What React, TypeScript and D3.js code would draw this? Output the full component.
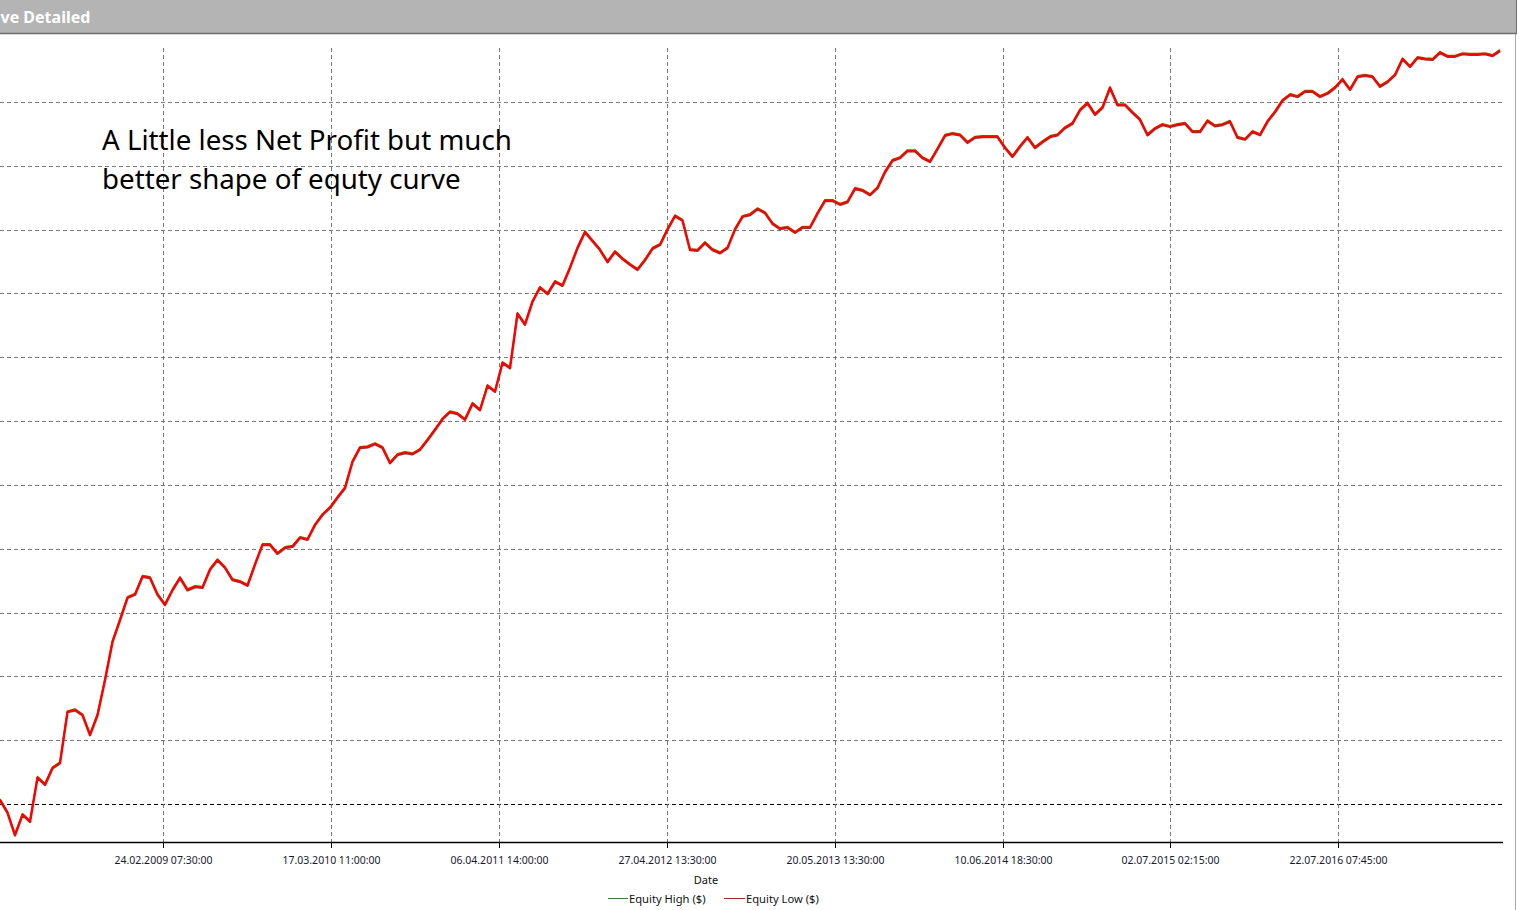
import React from "react";
import * as d3 from "d3";

// Equity (low) sampled at uniform intervals along the test (sample index 0..200)
const equityLow: number[] = [
  10060, 9860, 9510, 9830, 9720, 10410, 10300, 10560, 10640, 11440,
  11470, 11390, 11080, 11390, 11940, 12540, 12880, 13230, 13280, 13560,
  13540, 13280, 13120, 13350, 13540, 13350, 13400, 13390, 13670, 13820,
  13700, 13510, 13480, 13420, 13750, 14060, 14060, 13920, 14010, 14030,
  14170, 14140, 14370, 14530, 14640, 14800, 14950, 15360, 15580, 15590,
  15640, 15580, 15340, 15470, 15500, 15480, 15550, 15700, 15860, 16030,
  16140, 16110, 16020, 16270, 16170, 16550, 16460, 16910, 16830, 17680,
  17510, 17870, 18090, 17990, 18180, 18120, 18400, 18710, 18960, 18820,
  18680, 18490, 18650, 18540, 18450, 18370, 18520, 18700, 18760, 19000,
  19210, 19140, 18680, 18670, 18790, 18680, 18630, 18710, 19000, 19200,
  19230, 19320, 19260, 19090, 19010, 19030, 18950, 19030, 19030, 19250,
  19450, 19450, 19390, 19430, 19640, 19610, 19540, 19650, 19900, 20080,
  20120, 20230, 20230, 20120, 20060, 20260, 20470, 20500, 20480, 20360,
  20440, 20450, 20450, 20450, 20280, 20140, 20300, 20440, 20280, 20370,
  20450, 20480, 20590, 20660, 20870, 20980, 20800, 20910, 21220, 20950,
  20950, 20830, 20720, 20480, 20580, 20640, 20610, 20640, 20660, 20530,
  20530, 20700, 20620, 20640, 20690, 20440, 20410, 20530, 20480, 20690,
  20840, 21020, 21110, 21080, 21160, 21160, 21080, 21130, 21220, 21350,
  21190, 21390, 21410, 21390, 21240, 21310, 21420, 21670, 21550, 21690,
  21670, 21660, 21770, 21710, 21710, 21750, 21740, 21740, 21750, 21720,
  21800,
];

// x tick positions (in sample index units) and their date labels
const tickIndex: number[] = [21.73, 44.13, 66.53, 88.93, 111.33, 133.73, 156.0, 178.4];
const tickLabels: string[] = [
  "24.02.2009 07:30:00",
  "17.03.2010 11:00:00",
  "06.04.2011 14:00:00",
  "27.04.2012 13:30:00",
  "20.05.2013 13:30:00",
  "10.06.2014 18:30:00",
  "02.07.2015 02:15:00",
  "22.07.2016 07:45:00",
];
const yTicks: number[] = d3.range(10000, 21001, 1000);
const initialDeposit = 10000;
const yDomain: [number, number] = [9405, 21846];

const seriesNames = ["Equity High ($)", "Equity Low ($)"];
const seriesColors = ["#1f8a1f", "#ff0000"];

const W = 1519;
const H = 910;
const plotLeft = 0;
const plotRight = 1503;
const plotTop = 48;
const plotBottom = 842;
const font = "'Noto Sans', 'Open Sans', sans-serif";

export default function App() {
  const x = d3.scaleLinear().domain([0, equityLow.length - 1]).range([0, 1500]);
  const y = d3.scaleLinear().domain(yDomain).range([plotBottom, plotTop]);
  const line = d3
    .line<number>()
    .x((_, i) => x(i))
    .y((d) => y(d));
  const path = line(equityLow) || "";

  return (
    <svg
      width={W}
      height={H}
      style={{ position: "absolute", left: 0, top: 0, background: "#fff" }}
      fontFamily={font}
    >
      {/* title bar */}
      <rect x={0} y={0} width={1517} height={33} fill="#b4b4b4" />
      <line x1={0} x2={1517} y1={33.5} y2={33.5} stroke="#6e6e6e" strokeWidth={1.5} />
      <line x1={1516.5} x2={1516.5} y1={0} y2={34} stroke="#6e6e6e" strokeWidth={1} />
      <text x={0.5} y={23} fill="#ffffff" fontWeight="bold" fontSize={16}>
        ve Detailed
      </text>
      <line x1={1515.5} x2={1515.5} y1={34} y2={H} stroke="#a8a8a8" strokeWidth={1} />

      {/* horizontal grid */}
      {yTicks.map((t) => (
        <line
          key={"h" + t}
          x1={plotLeft}
          x2={plotRight}
          y1={Math.round(y(t)) + 0.5}
          y2={Math.round(y(t)) + 0.5}
          stroke={t === initialDeposit ? "#000" : "#7a7a7a"}
          strokeWidth={1}
          strokeDasharray="4 3"
        />
      ))}
      {/* vertical grid */}
      {tickIndex.map((t) => (
        <line
          key={"v" + t}
          x1={Math.round(x(t)) + 0.5}
          x2={Math.round(x(t)) + 0.5}
          y1={plotTop}
          y2={plotBottom}
          stroke="#7a7a7a"
          strokeWidth={1}
          strokeDasharray="4 3"
        />
      ))}

      {/* series */}
      <path d={path} fill="none" stroke={seriesColors[0]} strokeWidth={1.6} transform="translate(0,-1.2)" strokeLinejoin="round" />
      <path d={path} fill="none" stroke={seriesColors[1]} strokeWidth={2.5} strokeLinejoin="round" />

      {/* x axis */}
      <line x1={plotLeft} x2={plotRight} y1={plotBottom + 0.5} y2={plotBottom + 0.5} stroke="#000" strokeWidth={1.5} />
      {tickIndex.map((t, i) => (
        <g key={"t" + i} transform={`translate(${Math.round(x(t)) + 0.5},0)`}>
          <line y1={plotBottom} y2={plotBottom + 6} stroke="#000" strokeWidth={1} />
          <text y={864} textAnchor="middle" fontSize={10.5} fill="#1a1a2e">
            {tickLabels[i]}
          </text>
        </g>
      ))}
      <text x={706} y={884} textAnchor="middle" fontSize={11} fill="#111">
        Date
      </text>

      {/* legend */}
      <line x1={608} x2={628} y1={898.5} y2={898.5} stroke={seriesColors[0]} strokeWidth={1} />
      <text x={629} y={902.5} fontSize={11.2} fill="#111">{seriesNames[0]}</text>
      <line x1={724} x2={745} y1={898.5} y2={898.5} stroke={seriesColors[1]} strokeWidth={1} />
      <text x={746} y={902.5} fontSize={11.2} fill="#111">{seriesNames[1]}</text>

      {/* annotation */}
      <text x={102} y={150} fontSize={27.7} fill="#000">A Little less Net Profit but much</text>
      <text x={102} y={189} fontSize={27.7} fill="#000">better shape of equty curve</text>
    </svg>
  );
}
